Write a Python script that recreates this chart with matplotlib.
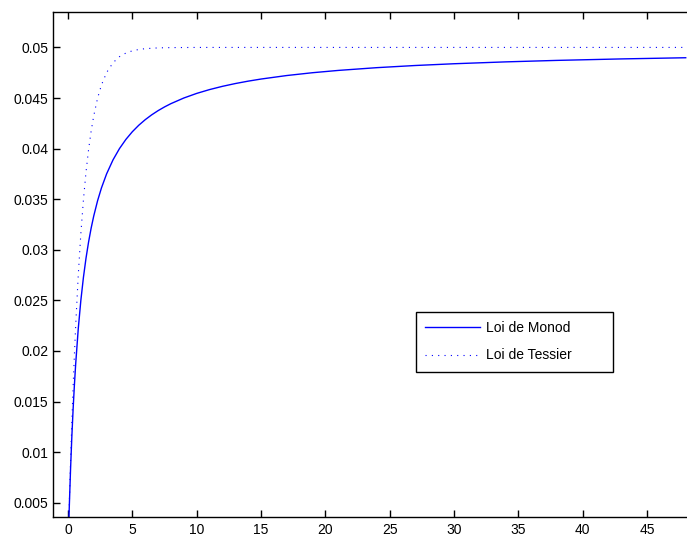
import matplotlib
matplotlib.use("Agg")
import matplotlib.pyplot as plt
from matplotlib.ticker import FuncFormatter

# Substrate concentration S and growth rates
S_monod = [0, 0.05, 0.1, 0.2, 0.3, 0.4, 0.5, 0.6, 0.8, 1.0, 1.2, 1.4, 1.6, 1.8,
           2.0, 2.3, 2.6, 3.0, 3.5, 4.0, 4.5, 5, 5.5, 6, 6.5, 7, 7.5, 8, 9, 10,
           11, 12, 13, 14, 15, 17, 19, 21, 24, 27, 30, 34, 38, 43, 48]
mu_monod = [0.0, 0.002381, 0.004545, 0.008333, 0.011538, 0.014286, 0.016667,
            0.01875, 0.022222, 0.025, 0.027273, 0.029167, 0.030769, 0.032143,
            0.033333, 0.034848, 0.036111, 0.0375, 0.038889, 0.04, 0.040909,
            0.041667, 0.042308, 0.042857, 0.043333, 0.04375, 0.044118,
            0.044444, 0.045, 0.045455, 0.045833, 0.046154, 0.046429,
            0.046667, 0.046875, 0.047222, 0.0475, 0.047727, 0.048, 0.048214,
            0.048387, 0.048571, 0.048718, 0.048864, 0.04898]

S_tessier = [0, 0.1, 0.2, 0.3, 0.4, 0.5, 0.6, 0.8, 1.0, 1.2, 1.4, 1.6, 1.8, 2.0,
             2.3, 2.6, 3.0, 3.5, 4.0, 4.5, 5, 5.5, 6, 7, 8, 10, 15, 20, 30, 40, 48]
mu_tessier = [0.0, 0.004758, 0.009063, 0.012959, 0.016484, 0.019673, 0.022559,
              0.027534, 0.031606, 0.03494, 0.03767, 0.039905, 0.041735,
              0.043233, 0.044987, 0.046287, 0.047511, 0.04849, 0.049084,
              0.049444, 0.049663, 0.049796, 0.049876, 0.049954, 0.049983,
              0.049998, 0.05, 0.05, 0.05, 0.05, 0.05]

labels = ["Loi de Monod", "Loi de Tessier"]
xticks = [0, 5, 10, 15, 20, 25, 30, 35, 40, 45]
yticks = [0.005, 0.01, 0.015, 0.02, 0.025, 0.03, 0.035, 0.04, 0.045, 0.05]

plt.rcParams['font.family'] = ['Liberation Sans', 'DejaVu Sans']

fig = plt.figure(figsize=(6.87, 5.36), dpi=100)
ax = fig.add_axes([0.0776, 0.0354, 0.9224 + 0.01, 0.9422])

ax.plot(S_monod, mu_monod, color=(0, 0, 1), lw=1.0, label=labels[0])
ax.plot(S_tessier, mu_tessier, color=(0, 0, 1), lw=0.8,
        linestyle=(0, (1, 4.7)), label=labels[1])

ax.set_xlim(-1.14, 48.1 + 0.01 * 49.2 / 0.9224)
ax.set_ylim(0.00359, 0.0535)
ax.set_xticks(xticks)
ax.set_yticks(yticks)
ax.yaxis.set_major_formatter(FuncFormatter(lambda v, p: f"{v:g}"))
ax.tick_params(direction='in', length=5, width=1, labelsize=10,
               top=True, right=True, colors='black')
ax.tick_params(axis='x', pad=4)
for s in ax.spines.values():
    s.set_linewidth(1.0)

leg = ax.legend(loc='upper left', bbox_to_anchor=(0.605, 0.4174, 0.287, 0.0),
                bbox_transform=fig.transFigure, mode='expand', fontsize=10,
                fancybox=False, framealpha=1, edgecolor='black',
                handlelength=3.96, handletextpad=0.43, borderpad=0.65,
                labelspacing=0.95, borderaxespad=0)
leg.get_frame().set_linewidth(1.0)

fig.savefig("out.png", dpi=100)
